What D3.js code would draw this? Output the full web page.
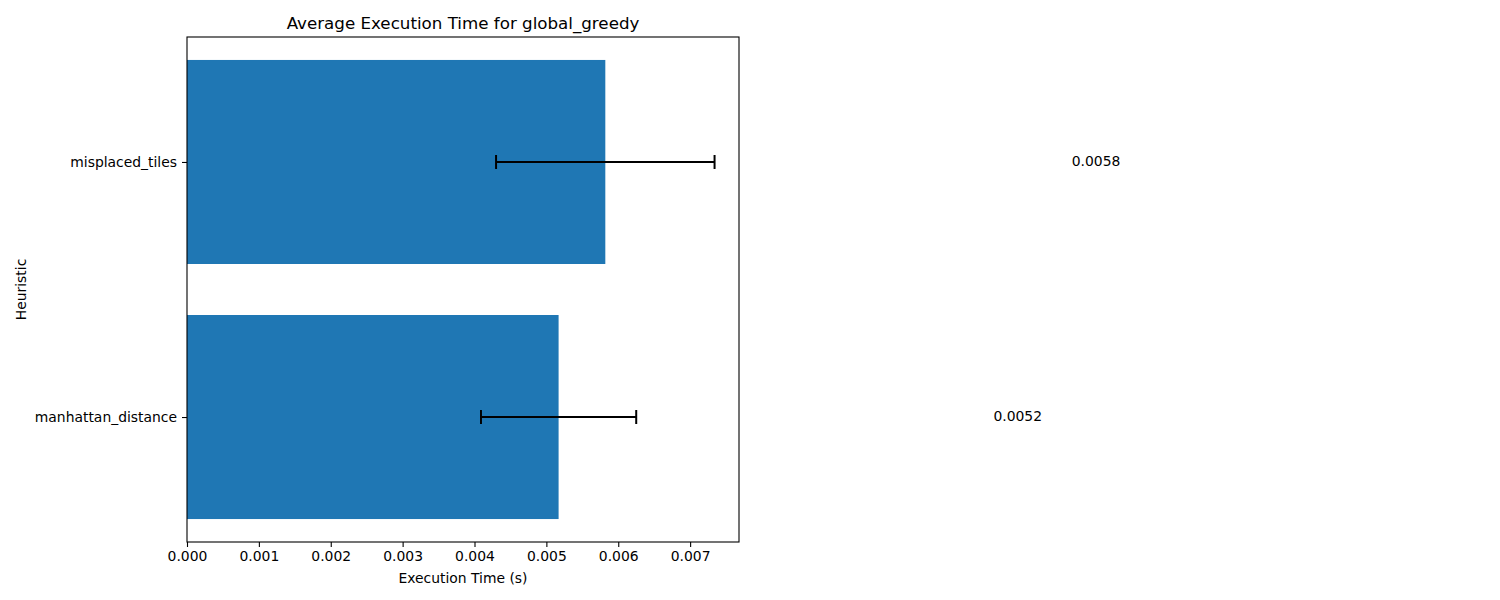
<!DOCTYPE html>
<html>
<head>
<meta charset="utf-8">
<script src="https://cdnjs.cloudflare.com/ajax/libs/d3/7.8.5/d3.min.js"></script>
<style>
body { margin: 0; background: #fff; }
text { font-family: "DejaVu Sans", sans-serif; }
</style>
</head>
<body>
<div class="container"></div>
<script>
const wd = 1500
const ht = 600

// data
const heuristics = ["manhattan_distance", "misplaced_tiles"]
const meanTimes = [0.00517, 0.00582]
const stdTimes = [0.00108, 0.00152]
const xTicks = [0, 0.001, 0.002, 0.003, 0.004, 0.005, 0.006, 0.007]
const labelOffset = 0.00497 // value labels sit at mean + std + offset

const pL = 187, pR = 739, pT = 37, pB = 542
const fs = "13.9px"

const svg = d3.select(".container")
  .append("svg")
  .attr("width", wd)
  .attr("height", ht)

const x = d3.scaleLinear()
  .domain([0, 0.00768])
  .range([pL, pR])

// y in category units, like matplotlib: bars at 0 and 1, height 0.8
const y = d3.scaleLinear()
  .domain([-0.49, 1.49])
  .range([pB, pT])

const rows = heuristics.map((h, i) => ({ name: h, pos: i, mean: meanTimes[i], std: stdTimes[i] }))

// bars
svg.selectAll("rect.bar")
  .data(rows)
  .enter()
  .append("rect")
  .attr("class", "bar")
  .attr("x", x(0))
  .attr("y", d => y(d.pos + 0.4))
  .attr("width", d => x(d.mean) - x(0))
  .attr("height", d => y(d.pos - 0.4) - y(d.pos + 0.4))
  .attr("fill", "#1f77b4")

// error bars
const err = svg.selectAll("g.err")
  .data(rows)
  .enter()
  .append("g")
  .attr("class", "err")
  .attr("stroke", "black")
  .attr("stroke-width", 2)

err.append("line")
  .attr("x1", d => x(d.mean - d.std))
  .attr("x2", d => x(d.mean + d.std))
  .attr("y1", d => y(d.pos))
  .attr("y2", d => y(d.pos))

err.append("line")
  .attr("x1", d => x(d.mean - d.std))
  .attr("x2", d => x(d.mean - d.std))
  .attr("y1", d => y(d.pos) - 7)
  .attr("y2", d => y(d.pos) + 7)

err.append("line")
  .attr("x1", d => x(d.mean + d.std))
  .attr("x2", d => x(d.mean + d.std))
  .attr("y1", d => y(d.pos) - 7)
  .attr("y2", d => y(d.pos) + 7)

// value labels, outside the axes
svg.selectAll("text.val")
  .data(rows)
  .enter()
  .append("text")
  .attr("class", "val")
  .attr("x", d => x(d.mean + d.std + labelOffset))
  .attr("y", d => y(d.pos))
  .attr("dy", "0.3em")
  .attr("font-size", fs)
  .text(d => d.mean.toFixed(4))

// axes
const xAxis = svg.append("g")
  .attr("transform", `translate(0,${pB})`)
  .call(d3.axisBottom(x).tickValues(xTicks).tickFormat(d3.format(".3f")).tickSize(5).tickPadding(4))

const yAxis = svg.append("g")
  .attr("transform", `translate(${pL},0)`)
  .call(d3.axisLeft(y).tickValues(rows.map(d => d.pos)).tickFormat(i => heuristics[i]).tickSize(5).tickPadding(5))

for (const ax of [xAxis, yAxis]) {
  ax.select(".domain").remove()
  ax.selectAll("text").attr("font-size", fs).attr("fill", "black").style("font-family", "DejaVu Sans")
  ax.selectAll(".tick line").attr("stroke", "black").attr("stroke-width", 1.1)
}

// frame
svg.append("rect")
  .attr("x", pL)
  .attr("y", pT)
  .attr("width", pR - pL)
  .attr("height", pB - pT)
  .attr("fill", "none")
  .attr("stroke", "black")
  .attr("stroke-width", 1.1)

// titles
svg.append("text")
  .attr("x", (pL + pR) / 2)
  .attr("y", 29)
  .attr("text-anchor", "middle")
  .attr("font-size", "16.7px")
  .text("Average Execution Time for global_greedy")

svg.append("text")
  .attr("x", (pL + pR) / 2)
  .attr("y", 583)
  .attr("text-anchor", "middle")
  .attr("font-size", fs)
  .text("Execution Time (s)")

svg.append("text")
  .attr("transform", `translate(26,${(pT + pB) / 2}) rotate(-90)`)
  .attr("text-anchor", "middle")
  .attr("font-size", fs)
  .text("Heuristic")
</script>
</body>
</html>
